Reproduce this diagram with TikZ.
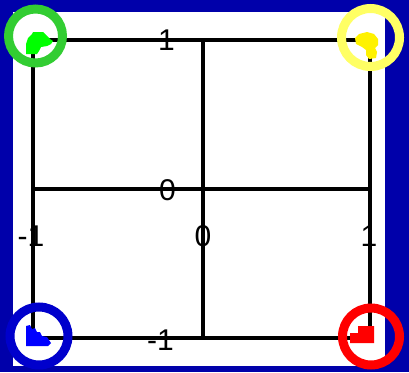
\documentclass[tikz,border=0pt]{standalone}
\usepackage{fontspec}
\setmainfont{Liberation Sans}
\definecolor{frameblue}{RGB}{0,0,170}
\definecolor{ringgreen}{RGB}{50,205,50}
\definecolor{ringyellow}{RGB}{255,255,100}
\definecolor{ringblue}{RGB}{0,0,204}
\definecolor{ringred}{RGB}{255,0,0}
\tikzset{
  gridline/.style={line width=3.2pt, black},
  ticklabel/.style={inner sep=0pt, font=\fontsize{30}{30}\selectfont},
  ring/.style={line width=9pt},
}
\begin{document}
\begin{tikzpicture}[x=1pt,y=-1pt]
\useasboundingbox (0,0) rectangle (409,372);
\fill[frameblue] (0,0) rectangle (409,372);
\fill[white] (13,12) rectangle (385,366);
% grid
\coordinate (tl) at (33,40);
\coordinate (tr) at (370,40);
\coordinate (bl) at (33,338);
\coordinate (br) at (370,338);
\coordinate (tm) at (203,40);
\coordinate (bm) at (203,338);
\coordinate (ml) at (33,189);
\coordinate (mr) at (370,189);
\draw[gridline] (tl) rectangle (br);
\draw[gridline] (tm) -- (bm);
\draw[gridline] (ml) -- (mr);
% tick labels
\node[ticklabel, anchor=east] (y1) at (175,40) {1};
\node[ticklabel, anchor=east] (y0) at (176,190) {0};
\node[ticklabel, anchor=east] (ym1) at (174,340) {-1};
\node[ticklabel] (xm1) at (31,236) {-1};
\node[ticklabel] (x0) at (203,236) {0};
\node[ticklabel] (x1) at (369,236) {1};
% blobs
\fill[green] (26,44) -- (28,38) -- (32,34) -- (33,32) -- (43,32) -- (47,36) -- (50,39) -- (53,41) -- (51,44) -- (47,46) -- (41,47) -- (39,51) -- (37,54) -- (26,54) -- cycle;
\fill[yellow] (355,38) -- (359,34) -- (367,32) -- (374,34) -- (378,39) -- (378,45) -- (375,48) -- (377,52) -- (376,58) -- (369,59) -- (366,55) -- (366,50) -- (362,47) -- (356,44) -- cycle;
\fill[blue] (26,326) -- (30,325) -- (32,329) -- (35,328) -- (37,332) -- (40,332) -- (42,336) -- (47,337) -- (51,343) -- (48,346) -- (26,346) -- cycle;
\fill[red] (358,326) -- (374,326) -- (374,343) -- (350,343) -- (350,333) -- (358,333) -- cycle;
% rings
\draw[ring, ringgreen] (35.5,36) circle[radius=27pt];
\draw[ring, ringyellow] (370.5,37.5) circle[radius=29pt];
\draw[ring, ringblue] (39,336) circle[radius=29pt];
\draw[ring, ringred] (371,336.5) circle[radius=28.5pt];
\end{tikzpicture}
\end{document}
